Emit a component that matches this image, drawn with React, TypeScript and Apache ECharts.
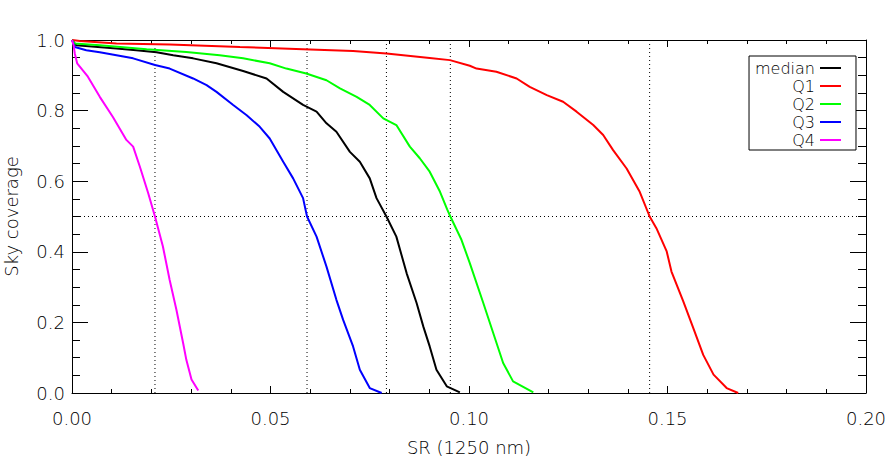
import React, { useEffect, useRef } from "react";
import * as echarts from "echarts";

const seriesNames = ["median", "Q1", "Q2", "Q3", "Q4"];
const seriesColors = ["#000000", "#ff0000", "#00ff00", "#0000ff", "#ff00ff"];

const medianData = [
  [0, 1.0], [0.0011, 0.985], [0.0112, 0.976], [0.0162, 0.971], [0.0213, 0.965], [0.0255, 0.957],
  [0.0305, 0.948], [0.0364, 0.934], [0.0431, 0.912], [0.049, 0.891], [0.0532, 0.853], [0.0582, 0.816],
  [0.0616, 0.797], [0.0641, 0.764], [0.0666, 0.74], [0.07, 0.683], [0.0725, 0.655], [0.075, 0.608],
  [0.0767, 0.552], [0.0792, 0.5], [0.0817, 0.443], [0.0843, 0.339], [0.0868, 0.255], [0.0885, 0.188],
  [0.0901, 0.132], [0.0918, 0.066], [0.0944, 0.019], [0.0977, 0.002],
];

const q1Data = [
  [0, 1.0], [0.002, 0.997], [0.0112, 0.99], [0.0246, 0.987], [0.0423, 0.98], [0.0582, 0.974],
  [0.0708, 0.969], [0.0792, 0.962], [0.0901, 0.949], [0.0952, 0.943], [0.1002, 0.927], [0.1019, 0.919],
  [0.1069, 0.91], [0.112, 0.891], [0.1153, 0.867], [0.1196, 0.844], [0.1237, 0.825], [0.1271, 0.797],
  [0.1313, 0.759], [0.1338, 0.731], [0.1363, 0.688], [0.1397, 0.636], [0.143, 0.57], [0.1455, 0.5],
  [0.1472, 0.467], [0.1498, 0.401], [0.151, 0.344], [0.154, 0.259], [0.1565, 0.184], [0.159, 0.108],
  [0.1616, 0.052], [0.1649, 0.014], [0.1678, 0.0],
];

const q2Data = [
  [0, 1.0], [0.0007, 0.99], [0.007, 0.985], [0.0188, 0.974], [0.0288, 0.966], [0.0372, 0.957],
  [0.0431, 0.948], [0.0498, 0.934], [0.054, 0.919], [0.059, 0.905], [0.0641, 0.886], [0.0675, 0.863],
  [0.0717, 0.839], [0.075, 0.816], [0.0784, 0.778], [0.0817, 0.759], [0.0851, 0.698], [0.0876, 0.665],
  [0.0901, 0.627], [0.0927, 0.57], [0.0945, 0.52], [0.0953, 0.5], [0.0981, 0.434], [0.1002, 0.368],
  [0.1036, 0.255], [0.1061, 0.17], [0.1086, 0.085], [0.1111, 0.033], [0.1162, 0.002],
];

const q3Data = [
  [0, 1.0], [0.0007, 0.98], [0.0036, 0.971], [0.007, 0.965], [0.0154, 0.948], [0.0209, 0.929],
  [0.0246, 0.919], [0.0305, 0.891], [0.0339, 0.872], [0.0364, 0.853], [0.0406, 0.816], [0.044, 0.787],
  [0.0473, 0.754], [0.0498, 0.721], [0.0532, 0.655], [0.0557, 0.608], [0.0582, 0.552], [0.0592, 0.5],
  [0.0616, 0.443], [0.0641, 0.358], [0.0666, 0.264], [0.0683, 0.207], [0.0708, 0.132], [0.0725, 0.066],
  [0.075, 0.014], [0.078, 0.0],
];

const q4Data = [
  [0, 1.0], [0.0004, 0.985], [0.0007, 0.962], [0.0013, 0.934], [0.004, 0.896], [0.007, 0.839],
  [0.0103, 0.782], [0.0137, 0.717], [0.0154, 0.698], [0.0171, 0.641], [0.0192, 0.566], [0.0209, 0.5],
  [0.0229, 0.415], [0.0246, 0.32], [0.0263, 0.236], [0.028, 0.141], [0.0288, 0.094], [0.0301, 0.038],
  [0.0318, 0.007],
];

// SR where each curve reaches 50% sky coverage
const halfCoverageSR = [0.0209, 0.0592, 0.0792, 0.0953, 0.1455];
const halfCoverageLevel = 0.5;

const xTickValues = [0, 0.05, 0.1, 0.15, 0.2];
const yTickValues = [0, 0.2, 0.4, 0.6, 0.8, 1.0];

const FONT = "DejaVu Sans";

export default function App() {
  const ref = useRef<HTMLDivElement>(null);

  useEffect(() => {
    if (!ref.current) return;
    const chart = echarts.init(ref.current, null, { renderer: "svg" });
    const allData = [medianData, q1Data, q2Data, q3Data, q4Data];
    const xMin = xTickValues[0];
    const xMax = xTickValues[xTickValues.length - 1];
    const yMin = yTickValues[0];
    const yMax = yTickValues[yTickValues.length - 1];

    const xCommon = {
      type: "value",
      min: xMin,
      max: xMax,
      interval: 0.05,
      splitLine: { show: false },
      axisLine: { show: true, onZero: false, lineStyle: { color: "#000", width: 1 } },
      axisTick: { show: true, inside: true, length: 7, lineStyle: { color: "#000", width: 1 } },
      minorTick: { show: true, splitNumber: 5, length: 4, lineStyle: { color: "#000", width: 1 } },
    };
    const yCommon = {
      type: "value",
      min: yMin,
      max: yMax,
      interval: 0.2,
      splitLine: { show: false },
      axisLine: { show: true, onZero: false, lineStyle: { color: "#000", width: 1 } },
      axisTick: { show: true, inside: true, length: 16, lineStyle: { color: "#000", width: 1 } },
      minorTick: { show: true, splitNumber: 4, length: 8, lineStyle: { color: "#000", width: 1 } },
    };

    const dotted = { color: "#000", type: [1, 3], width: 1 };
    const refSeries: any[] = [
      ...halfCoverageSR.map((v, i) => ({
        id: "vref" + i,
        type: "line",
        data: [[v, yMin], [v, yMax]],
        showSymbol: false,
        symbol: "none",
        silent: true,
        lineStyle: dotted,
        z: 1,
      })),
      {
        id: "href",
        type: "line",
        data: [[xMin, halfCoverageLevel], [xMax, halfCoverageLevel]],
        showSymbol: false,
        symbol: "none",
        silent: true,
        lineStyle: dotted,
        z: 1,
      },
    ];

    const series: any[] = [
      ...refSeries,
      ...allData.map((d, i) => ({
        name: seriesNames[i],
        type: "line",
        data: d,
        showSymbol: false,
        symbol: "none",
        smooth: false,
        lineStyle: { color: seriesColors[i], width: 2 },
        itemStyle: { color: seriesColors[i] },
        z: 3,
      })),
    ];

    chart.setOption({
      animation: false,
      backgroundColor: "#ffffff",
      textStyle: { fontFamily: FONT },
      grid: {
        left: 72,
        right: 24,
        top: 40,
        bottom: 82,
        containLabel: false,
        outerBoundsMode: "none",
      },
      legend: {
        data: seriesNames.map((n) => ({ name: n, icon: "path://M0 0H21V2H0Z" })),
        orient: "vertical",
        align: "right",
        right: 34,
        top: 56,
        itemWidth: 21,
        itemHeight: 14,
        itemGap: 0,
        padding: [3, 15, 1, 6],
        backgroundColor: "#ffffff",
        borderColor: "#000",
        borderWidth: 1,
        borderRadius: 0,
        selectedMode: false,
        textStyle: { fontFamily: FONT, fontSize: 16, lineHeight: 18, color: "#000", fontWeight: 200 },
        z: 10,
      },
      xAxis: [
        {
          ...xCommon,
          position: "bottom",
          name: "SR (1250 nm)",
          nameLocation: "middle",
          nameGap: 45,
          nameTextStyle: { fontFamily: FONT, fontSize: 18, color: "#000", fontWeight: 200 },
          axisLabel: {
            show: true,
            margin: 16,
            fontFamily: FONT,
            fontSize: 18,
            color: "#000",
            fontWeight: 200,
            formatter: (v: number) => v.toFixed(2),
          },
        },
        { ...xCommon, position: "top", axisLabel: { show: false } },
      ],
      yAxis: [
        {
          ...yCommon,
          position: "left",
          name: "Sky coverage",
          nameLocation: "middle",
          nameGap: 52,
          nameRotate: 90,
          nameTextStyle: { fontFamily: FONT, fontSize: 18, color: "#000", fontWeight: 200 },
          axisLabel: {
            show: true,
            margin: 7,
            fontFamily: FONT,
            fontSize: 18,
            color: "#000",
            fontWeight: 200,
            formatter: (v: number) => v.toFixed(1),
          },
        },
        { ...yCommon, position: "right", axisLabel: { show: false } },
      ],
      series,
    });

    return () => chart.dispose();
  }, []);

  return (
    <div
      ref={ref}
      style={{ position: "fixed", left: 0, top: 0, width: 890, height: 475, background: "#fff" }}
    />
  );
}
